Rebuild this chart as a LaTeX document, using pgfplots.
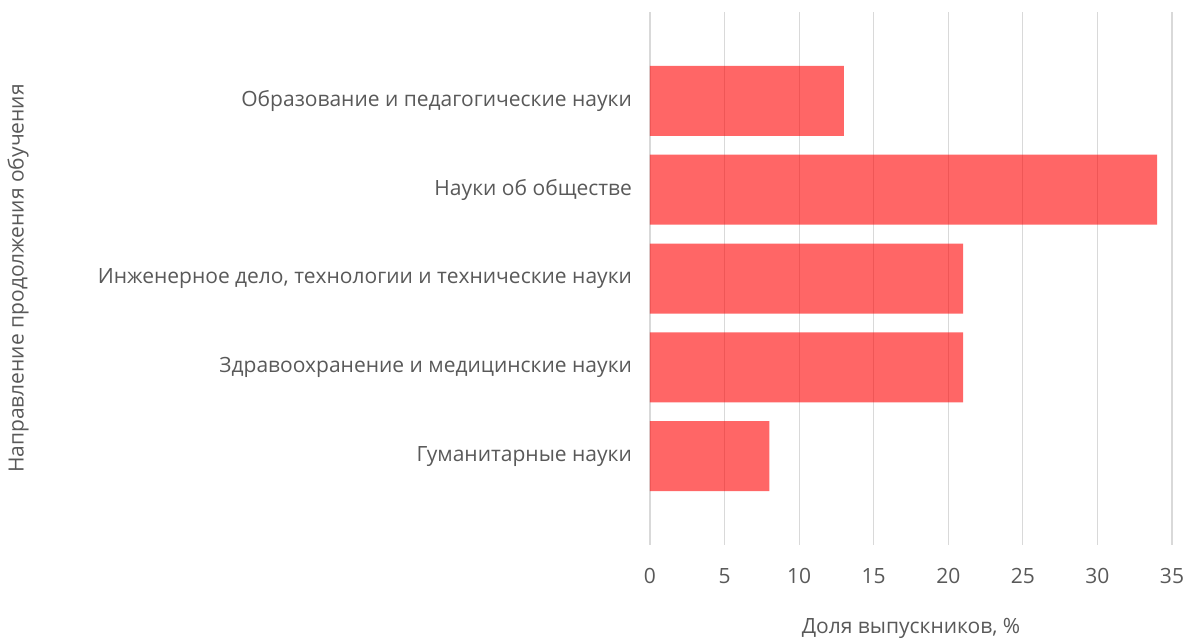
\documentclass[border=0pt]{standalone}
\usepackage{fontspec}
\setmainfont{Open Sans}
\usepackage{pgfplots}
\pgfplotsset{compat=1.18}
\definecolor{barred}{RGB}{255,0,0}
\definecolor{txt}{RGB}{89,89,89}
\definecolor{gridc}{RGB}{217,217,217}
\begin{document}
\begin{tikzpicture}
\path[use as bounding box] (-325pt,-47pt) rectangle (268.5pt,272.5pt);
\begin{axis}[
  at={(0,0)}, anchor=south west,
  scale only axis, width=261pt, height=266.5pt,
  xmin=0, xmax=35, ymin=0, ymax=6, y dir=reverse,
  xtick={0,5,...,35}, ytick={1,2,3,4,5},
  yticklabels={Образование и педагогические науки,Науки об обществе,{Инженерное дело, технологии и технические науки},Здравоохранение и медицинские науки,Гуманитарные науки},
  xmajorgrids, grid style={draw=gridc, line width=0.6pt},
  axis line style={draw=none}, major tick length=0pt,
  xbar, bar width=35pt,
  /pgf/number format/assume math mode=true,
  tick label style={font=\fontsize{10.5}{12}\selectfont, text=txt},
  yticklabel style={anchor=east, xshift=-5.5pt},
  xticklabel style={yshift=-8pt},
  label style={font=\fontsize{10.5}{12}\selectfont, text=txt},
  xlabel={Доля выпускников, \%},
  ylabel={Направление продолжения обучения},
  xlabel style={at={(axis description cs:0.5,0)}, anchor=center, yshift=-41.5pt},
  ylabel style={at={([xshift=-316pt]axis description cs:0,0.5)}, anchor=center},
  clip=false,
]
\addplot[fill=barred, fill opacity=0.6, draw=none] coordinates {(13,1) (34,2) (21,3) (21,4) (8,5)};
\end{axis}
\end{tikzpicture}
\end{document}
